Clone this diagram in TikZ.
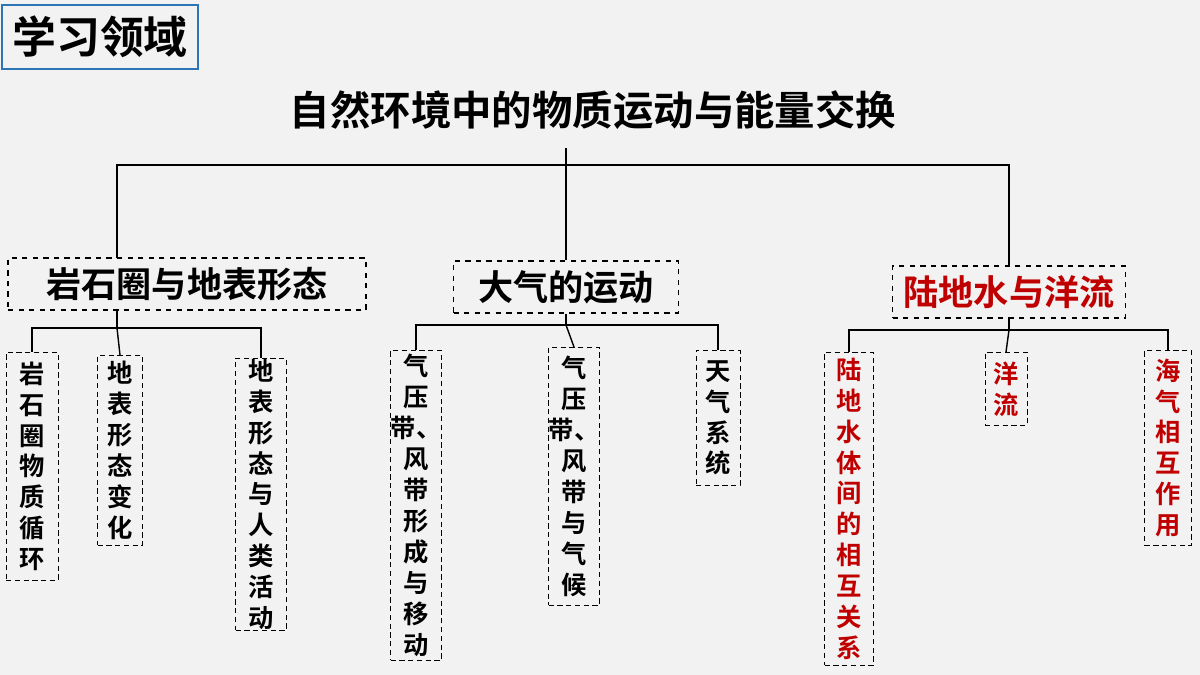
\documentclass[tikz,border=0pt]{standalone}
\usepackage{fontspec}
\setmainfont{Noto Sans CJK SC}[BoldFont={* Bold}]
\usetikzlibrary{positioning, calc}

\definecolor{bg}{HTML}{F2F2F2}
\definecolor{rd}{HTML}{C00000}
\definecolor{bl}{HTML}{2E75B6}

\begin{document}
\begin{tikzpicture}[x=0.02cm, y=-0.02cm,
     head/.style = {draw, dashed, thick, minimum height=1.04cm,
       font=\bfseries\fontsize{20}{24}\selectfont}, % middle level
     leaf/.style = {draw, densely dashed, inner sep=0pt, anchor=north,
       align=center, font=\bfseries\fontsize{14.4}{17.6}\selectfont}, % bottom level
     link/.style = {draw, thick}
     ]
     \fill[bg] (0,0) rectangle (1200,675);
     \useasboundingbox (0,0) rectangle (1200,675);

     \node[draw=bl, thick, minimum width=3.92cm, minimum height=1.28cm,
       font=\bfseries\fontsize{25}{28}\selectfont] (area) at (100,37) {学习领域};
     \node[font=\bfseries\fontsize{23}{26}\selectfont] (root) at (593,110)
       {自然环境中的物质运动与能量交换};

     \node[head, minimum width=7.16cm] (A) at (187,284) {岩石圈与地表形态};
     \node[head, minimum width=4.5cm] (B) at (566,287) {大气的运动};
     \node[head, minimum width=4.66cm, text=rd] (C) at (1009,292) {陆地水与洋流};

     % top level links
     \coordinate (rt) at (566,165);
     \draw[link] (566,148) -- (rt);
     \draw[link] (rt) -- (B.north);
     \draw[link] (rt) -| (117,258);
     \draw[link] (rt) -| (C.north);

     % leaves
     \node[leaf, minimum width=1.04cm, minimum height=4.56cm] (A1) at (32,352)
       {岩\\石\\圈\\物\\质\\循\\环};
     \node[leaf, minimum width=0.9cm, minimum height=3.8cm] (A2) at (120,355)
       {地\\表\\形\\态\\变\\化};
     \node[leaf, minimum width=1.02cm, minimum height=5.44cm] (A3) at (261,358)
       {地\\表\\形\\态\\与\\人\\类\\活\\动};
     \node[leaf, minimum width=1.02cm, minimum height=6.2cm] (B1) at (416,350)
       {气\\压\\带、\\风\\带\\形\\成\\与\\移\\动};
     \node[leaf, minimum width=1.02cm, minimum height=5.16cm] (B2) at (574,347)
       {气\\压\\带、\\风\\带\\与\\气\\候};
     \node[leaf, minimum width=0.88cm, minimum height=2.7cm] (B3) at (718,350)
       {天\\气\\系\\统};
     \node[leaf, minimum width=0.98cm, minimum height=6.26cm, text=rd] (C1) at (849,352)
       {陆\\地\\水\\体\\间\\的\\相\\互\\关\\系};
     \node[leaf, minimum width=0.84cm, minimum height=1.46cm, text=rd] (C2) at (1006,352)
       {洋\\流};
     \node[leaf, minimum width=0.94cm, minimum height=3.9cm, text=rd] (C3) at (1168,350)
       {海\\气\\相\\互\\作\\用};

     % lower links
     \draw[link] (117,310) -- (117,328) coordinate (ja);
     \draw[link] (A1.north) -- (32,328) -| (A3.north);
     \draw[link] (ja) -- (A2.north);
     \draw[link] (B.south) -- (566,325) coordinate (jb);
     \draw[link] (B1.north) -- (416,325) -| (B3.north);
     \draw[link] (jb) -- (B2.north);
     \draw[link] (C.south) -- (1009,330) coordinate (jc);
     \draw[link] (C1.north) -- (849,330) -| (C3.north);
     \draw[link] (jc) -- (C2.north);
\end{tikzpicture}
\end{document}
